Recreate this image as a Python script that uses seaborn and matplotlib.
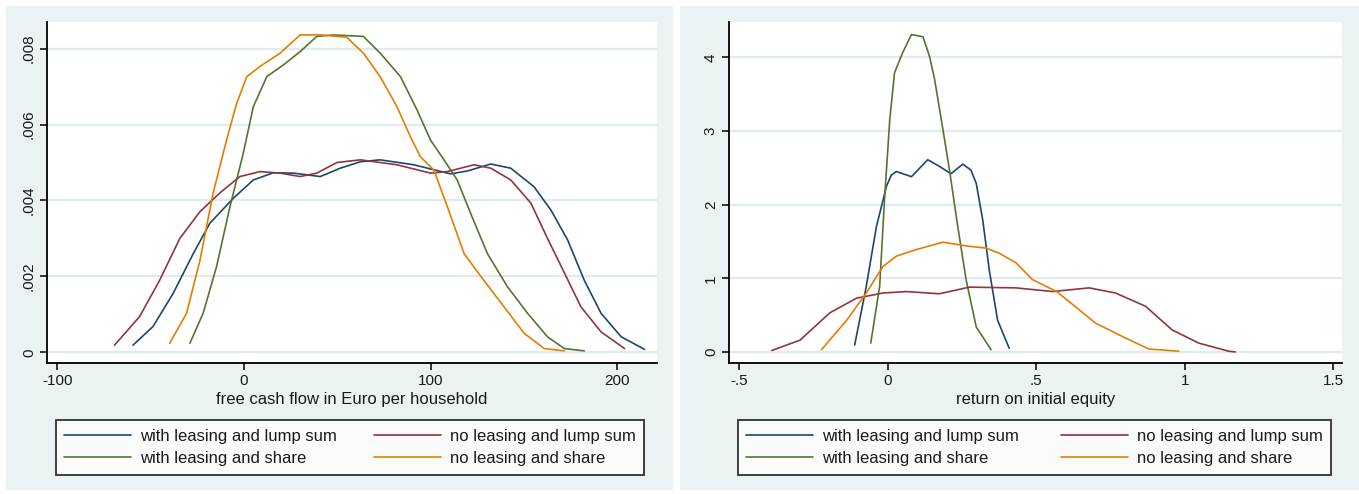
import matplotlib
matplotlib.use("Agg")
import matplotlib.pyplot as plt
from matplotlib.patches import Rectangle
import seaborn as sns
import pandas as pd

# ---- series names and colours -------------------------------------------
scenarios = [
    "with leasing and lump sum",
    "with leasing and share",
    "no leasing and lump sum",
    "no leasing and share",
]
colors = ["#1a476f", "#55752f", "#90353b", "#e37e00"]

# ---- panel 1: free cash flow in Euro per household (kernel densities) ----
fcf_lease_lump_x = [-59.5, -48.8, -38, -27.2, -18.3, -5.7, 5, 15.8, 26.5, 40.9, 51.6, 62.4,
                    73, 91, 110.8, 120, 132.3, 143, 155.5, 164.5, 173.5, 182.4, 191.4, 202.2, 214.7]
fcf_lease_lump_y = [0.00019, 0.00068, 0.00155, 0.0026, 0.0034, 0.00406, 0.00454, 0.00473,
                    0.00472, 0.00463, 0.00485, 0.00502, 0.00507, 0.00494, 0.0047, 0.00478,
                    0.00496, 0.00485, 0.00436, 0.00375, 0.00296, 0.0019, 0.00103, 0.00041, 0.00008]

fcf_lease_share_x = [-29, -21.9, -14.7, -7.5, -0.4, 5, 12.2, 21.1, 30.1, 39, 48, 64, 73,
                     83.9, 92.8, 100, 107.2, 114.3, 121.5, 130.5, 141.2, 152, 162.7, 171.7, 182.4]
fcf_lease_share_y = [0.00024, 0.00103, 0.00226, 0.00384, 0.00524, 0.00647, 0.00726, 0.00757,
                     0.00792, 0.00832, 0.00836, 0.00832, 0.00788, 0.00726, 0.00638, 0.00559,
                     0.00507, 0.00454, 0.00366, 0.0026, 0.00173, 0.00103, 0.00041, 0.0001, 0.00004]

fcf_nolease_lump_x = [-69.4, -56, -45.2, -34.4, -23.7, -12.9, -2.2, 8.6, 19.4, 30.1, 39, 49.8,
                      62.4, 82, 100, 109, 123.3, 132.3, 143, 153.8, 162.7, 171.7, 180.6, 191.4, 204]
fcf_nolease_lump_y = [0.00019, 0.00094, 0.0019, 0.003, 0.0037, 0.0042, 0.00463, 0.00476,
                      0.00472, 0.00463, 0.00472, 0.005, 0.00507, 0.00494, 0.00472, 0.00476,
                      0.00494, 0.00485, 0.00454, 0.00393, 0.003, 0.0021, 0.0012, 0.00054, 0.0001]

fcf_nolease_share_x = [-39.8, -30.8, -23.7, -16.5, -9.3, -3.9, 1.5, 8.6, 19.4, 30.1, 40.9, 55,
                       64, 73, 82, 89.2, 94.6, 101.8, 109, 118, 127, 139.4, 150.2, 161, 171.7]
fcf_nolease_share_y = [0.00024, 0.00103, 0.0024, 0.0042, 0.0056, 0.00656, 0.00726, 0.00753,
                       0.00788, 0.00836, 0.00836, 0.0083, 0.00788, 0.00726, 0.00647, 0.00568,
                       0.00515, 0.0048, 0.00384, 0.0026, 0.002, 0.0012, 0.0005, 0.0001, 0.00004]

# ---- panel 2: return on initial equity (kernel densities) -----------------
roe_lease_lump_x = [-0.111, -0.072, -0.038, -0.004, 0.012, 0.029, 0.08, 0.135, 0.174, 0.213,
                    0.253, 0.28, 0.298, 0.32, 0.342, 0.37, 0.409]
roe_lease_lump_y = [0.095, 0.89, 1.70, 2.25, 2.40, 2.45, 2.38, 2.61, 2.52, 2.42, 2.55, 2.47,
                    2.29, 1.79, 1.11, 0.43, 0.05]

roe_lease_share_x = [-0.057, -0.027, -0.01, 0.007, 0.023, 0.05, 0.08, 0.119, 0.141, 0.158,
                     0.186, 0.208, 0.236, 0.264, 0.298, 0.348]
roe_lease_share_y = [0.12, 0.89, 2.11, 3.15, 3.79, 4.06, 4.31, 4.28, 4.01, 3.70, 3.02, 2.47,
                     1.70, 0.98, 0.34, 0.03]

roe_nolease_lump_x = [-0.39, -0.295, -0.195, -0.105, -0.016, 0.063, 0.174, 0.275, 0.432,
                      0.555, 0.678, 0.767, 0.868, 0.957, 1.047, 1.148, 1.17]
roe_nolease_lump_y = [0.02, 0.16, 0.53, 0.73, 0.80, 0.82, 0.79, 0.88, 0.87, 0.82, 0.87, 0.80,
                      0.62, 0.30, 0.12, 0.01, 0.0]

roe_nolease_share_x = [-0.223, -0.138, -0.072, -0.016, 0.029, 0.096, 0.186, 0.264, 0.331,
                       0.376, 0.432, 0.488, 0.544, 0.572, 0.70, 0.80, 0.879, 0.98]
roe_nolease_share_y = [0.03, 0.43, 0.80, 1.16, 1.30, 1.39, 1.49, 1.44, 1.41, 1.34, 1.21, 0.98,
                       0.87, 0.81, 0.39, 0.19, 0.04, 0.01]

# ---- axis ticks ------------------------------------------------------------
fcf_xticks = [-100, 0, 100, 200]
fcf_xticklabels = ["-100", "0", "100", "200"]
fcf_yticks = [0, 0.002, 0.004, 0.006, 0.008]
fcf_yticklabels = ["0", ".002", ".004", ".006", ".008"]
roe_xticks = [-0.5, 0, 0.5, 1, 1.5]
roe_xticklabels = ["-.5", "0", ".5", "1", "1.5"]
roe_yticks = [0, 1, 2, 3, 4]
roe_yticklabels = ["0", "1", "2", "3", "4"]


def long_frame(xs, ys):
    parts = []
    for name, x, y in zip(scenarios, xs, ys):
        parts.append(pd.DataFrame({"x": x, "density": y, "scenario": name}))
    return pd.concat(parts, ignore_index=True)


fcf = long_frame(
    [fcf_lease_lump_x, fcf_lease_share_x, fcf_nolease_lump_x, fcf_nolease_share_x],
    [fcf_lease_lump_y, fcf_lease_share_y, fcf_nolease_lump_y, fcf_nolease_share_y],
)
roe = long_frame(
    [roe_lease_lump_x, roe_lease_share_x, roe_nolease_lump_x, roe_nolease_share_x],
    [roe_lease_lump_y, roe_lease_share_y, roe_nolease_lump_y, roe_nolease_share_y],
)

sns.set_theme(style="white")
plt.rcParams["font.family"] = ["Liberation Sans", "DejaVu Sans"]

W, H = 1359, 494
fig = plt.figure(figsize=(W / 100, H / 100), dpi=100)
fig.patch.set_facecolor("white")

PANEL_BG = "#eaf2f3"
GRID = "#e1ebee"
TEXT = "#1a1a1a"


def px_rect(x0, y0, x1, y1):
    """Pixel box (top-left origin) -> figure-fraction [left, bottom, width, height]."""
    return [x0 / W, 1 - y1 / H, (x1 - x0) / W, (y1 - y0) / H]


# panel backgrounds, kept underneath the axes
for (x0, x1) in [(6, 673), (680, 1359)]:
    l, b, w, h = px_rect(x0, 6, x1, 490)
    fig.patches.append(Rectangle((l, b), w, h, transform=fig.transFigure,
                                 facecolor=PANEL_BG, edgecolor="none", zorder=-10))

panels = [
    dict(data=fcf, box=(47, 22, 657, 363), xlim=(-105.6, 221.4), ylim=(-0.00028, 0.0087),
         xticks=fcf_xticks, xtl=fcf_xticklabels, yticks=fcf_yticks, ytl=fcf_yticklabels,
         xlabel="free cash flow in Euro per household", legend_px=(56, 644)),
    dict(data=roe, box=(729, 22, 1342, 363), xlim=(-0.534, 1.529), ylim=(-0.15, 4.48),
         xticks=roe_xticks, xtl=roe_xticklabels, yticks=roe_yticks, ytl=roe_yticklabels,
         xlabel="return on initial equity", legend_px=(738, 1331)),
]

for p in panels:
    x0, y0, x1, y1 = p["box"]
    ax = fig.add_axes(px_rect(x0, y0, x1, y1))
    ax.set_zorder(1)
    ax.set_facecolor("white")
    sns.lineplot(data=p["data"], x="x", y="density", hue="scenario", hue_order=scenarios,
                 palette=colors, sort=False, estimator=None, linewidth=1.2, ax=ax)
    ax.set_xlim(*p["xlim"])
    ax.set_ylim(*p["ylim"])
    ax.set_xticks(p["xticks"], p["xtl"])
    ax.set_yticks(p["yticks"], p["ytl"], rotation=90, va="center")
    ax.yaxis.grid(True, color=GRID, linewidth=1.6)
    ax.xaxis.grid(False)
    ax.set_axisbelow(True)
    for s in ["top", "right"]:
        ax.spines[s].set_visible(False)
    for s in ["left", "bottom"]:
        ax.spines[s].set_color("black")
        ax.spines[s].set_linewidth(1.3)
    ax.tick_params(axis="both", direction="out", length=5, width=1.1, color="black",
                   labelsize=11, labelcolor=TEXT, pad=3, bottom=True, left=True)
    ax.set_xlabel(p["xlabel"], fontsize=12, color=TEXT, labelpad=3)
    ax.set_ylabel("")

    lx0, lx1 = p["legend_px"]
    aw = x1 - x0
    ah = y1 - y0
    bx = (lx0 - x0) / aw
    bw = (lx1 - lx0) / aw
    by = (y1 - 476) / ah
    bh = (476 - 419) / ah
    sns.move_legend(ax, loc="center", bbox_to_anchor=(bx, by, bw, bh), mode="expand",
                    ncol=2, title=None, frameon=True, fontsize=12, handlelength=4.0,
                    handletextpad=0.55, labelspacing=0.45, columnspacing=1.5,
                    borderaxespad=0, fancybox=False, edgecolor="black", borderpad=0.5)
    leg = ax.get_legend()
    leg.get_frame().set_linewidth(1.3)
    for t in leg.get_texts():
        t.set_color(TEXT)

fig.savefig("out.png", dpi=100, facecolor="white")
